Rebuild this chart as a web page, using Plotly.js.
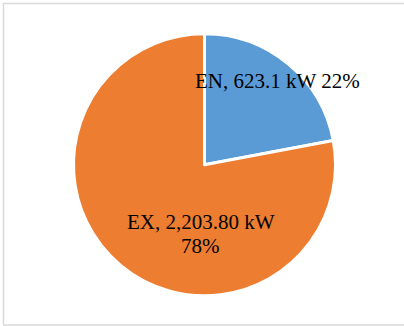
<!DOCTYPE html>
<html>
<head>
<meta charset="utf-8">
<script src="https://cdn.plot.ly/plotly-3.0.1.min.js"></script>
<style>
  html, body { margin: 0; padding: 0; background: #ffffff; }
  #chart { width: 404px; height: 326px; }
</style>
</head>
<body>
<div id="chart"></div>
<script>
// Power split between the two branches
const categories = ['EN', 'EX'];
const powerKW = [623.1, 2203.80];
const powerText = ['623.1', '2,203.80'];
const unit = 'kW';
const sliceColors = ['#5B9BD5', '#ED7D31'];

const total = powerKW.reduce((a, b) => a + b, 0);
const percents = powerKW.map(v => Math.round(v / total * 100) + '%');

const W = 404, H = 326;
const px = x => x / W;
const py = y => 1 - y / H;

const pie = {
  type: 'pie',
  labels: categories,
  values: powerKW,
  sort: false,
  direction: 'clockwise',
  rotation: 0,
  textinfo: 'none',
  hoverinfo: 'label+value+percent',
  marker: { colors: sliceColors, line: { color: '#ffffff', width: 3 } },
  domain: { x: [px(73.5), px(335.5)], y: [py(296), py(33.5)] },
  showlegend: false
};

const labelFont = { family: '"Liberation Serif", "Times New Roman", serif', size: 21, color: '#000000' };

const annotations = [
  { x: px(277), y: py(81), text: categories[0] + ', ' + powerText[0] + ' ' + unit + ' ' + percents[0] },
  { x: px(201), y: py(221.5), text: categories[1] + ', ' + powerText[1] + ' ' + unit },
  { x: px(200), y: py(245.5), text: percents[1] }
].map(a => Object.assign({
  xref: 'paper', yref: 'paper', xanchor: 'center', yanchor: 'middle',
  showarrow: false, font: labelFont
}, a));

const layout = {
  width: W,
  height: H,
  margin: { l: 0, r: 0, t: 0, b: 0 },
  paper_bgcolor: '#ffffff',
  annotations: annotations,
  shapes: [{
    type: 'rect', xref: 'paper', yref: 'paper',
    x0: px(3.5), x1: px(410), y0: py(325), y1: py(3.5),
    line: { color: '#d9d9d9', width: 1.5 },
    fillcolor: 'rgba(0,0,0,0)', layer: 'below'
  }]
};

Plotly.newPlot('chart', [pie], layout, { displayModeBar: false, staticPlot: true });
</script>
</body>
</html>
